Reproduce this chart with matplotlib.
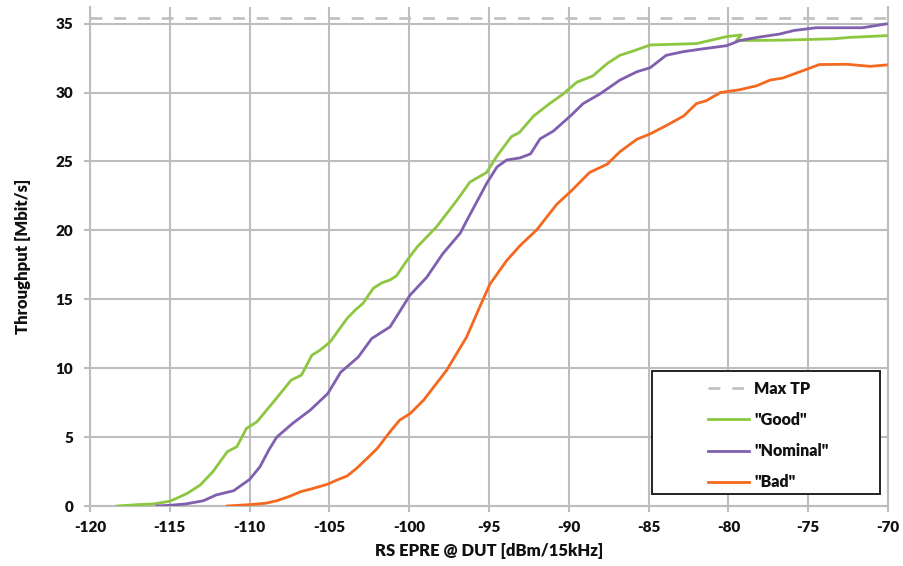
import matplotlib.pyplot as plt
from matplotlib.patches import Rectangle

# RS EPRE [dBm/15kHz] vs. throughput [Mbit/s] for three channel conditions
max_tp = 35.4
x_range = [-120, -70]

good_x = [-118.3, -117, -116, -115, -114.5, -113.9, -113.1, -112.3, -111.4, -110.8,
          -110.2, -109.55, -108.5, -107.4, -106.75, -106.1, -105.6, -104.96, -103.9,
          -103.4, -102.9, -102.25, -101.7, -101.2, -100.8, -100.15, -99.5, -98.3,
          -97.0, -96.2, -95.15, -94.5, -93.6, -93.1, -92.2, -91.2, -90.35, -89.5,
          -88.5, -87.6, -86.8, -86.0, -84.9, -82.0, -80.1, -79.2, -79.5, -76.6,
          -73.4, -72.4, -70.0]
good_y = [0, 0.1, 0.15, 0.35, 0.6, 0.92, 1.52, 2.49, 3.94, 4.3,
          5.63, 6.1, 7.56, 9.13, 9.5, 10.94, 11.3, 11.9, 13.6,
          14.2, 14.7, 15.8, 16.2, 16.4, 16.7, 17.8, 18.8, 20.24,
          22.2, 23.5, 24.2, 25.4, 26.8, 27.1, 28.3, 29.2, 29.9, 30.75,
          31.2, 32.1, 32.7, 33.0, 33.45, 33.55, 34.06, 34.18, 33.77, 33.8,
          33.9, 34.0, 34.13]

nominal_x = [-115.8, -115, -114, -112.9, -112.1, -111.0, -110.0, -109.35, -108.8,
             -108.3, -107.3, -106.2, -105.1, -104.3, -103.2, -102.35, -101.2,
             -100.6, -99.95, -98.9, -97.9, -96.8, -96.4, -95.15, -94.5, -93.9,
             -93.05, -92.4, -91.8, -90.97, -89.9, -89.1, -88.05, -86.8, -85.75,
             -84.9, -83.9, -82.8, -81.6, -80.1, -79.3, -78.2, -76.8, -75.9, -74.5,
             -71.6, -70.1]
nominal_y = [0, 0.05, 0.15, 0.38, 0.8, 1.11, 1.93, 2.85, 4.06,
             5.0, 6.0, 6.96, 8.16, 9.7, 10.8, 12.15, 13.0,
             14.1, 15.3, 16.6, 18.3, 19.8, 20.7, 23.4, 24.6, 25.1,
             25.26, 25.55, 26.64, 27.2, 28.3, 29.2, 29.9, 30.9, 31.5,
             31.8, 32.7, 32.97, 33.17, 33.4, 33.77, 34.0, 34.24, 34.5, 34.7,
             34.7, 34.98]

bad_x = [-111.4, -110, -109, -108.3, -107.5, -106.8, -106.0, -105.1, -104.5,
         -103.9, -103.3, -102.6, -102.0, -101.2, -100.6, -99.95, -99.1, -97.65,
         -96.4, -95.6, -94.94, -93.9, -93.05, -92.0, -90.75, -89.9, -88.7, -87.6,
         -86.8, -85.75, -84.9, -83.9, -82.8, -82.0, -81.4, -80.5, -79.3, -78.2,
         -77.4, -76.6, -75.3, -74.3, -72.6, -71.1, -70.1]
bad_y = [0, 0.1, 0.2, 0.38, 0.7, 1.04, 1.28, 1.59, 1.9,
         2.17, 2.73, 3.5, 4.18, 5.39, 6.23, 6.7, 7.68, 9.86,
         12.27, 14.4, 16.1, 17.8, 18.9, 20.05, 21.9, 22.8, 24.2, 24.8,
         25.7, 26.6, 27.0, 27.6, 28.3, 29.2, 29.4, 30.0, 30.2, 30.5,
         30.9, 31.05, 31.6, 32.03, 32.05, 31.9, 32.0]

x_ticks = list(range(-120, -69, 5))
y_ticks = list(range(0, 36, 5))

plt.rcParams['font.family'] = ['Lato', 'DejaVu Sans']
plt.rcParams['font.weight'] = 'heavy'
plt.rcParams['axes.unicode_minus'] = False

grid_col = '#bdbdbd'
text_col = '#111111'

fig = plt.figure(figsize=(9.04, 5.66), dpi=100)
ax = fig.add_axes([0.0996, 0.106, 0.8827, 0.8815])

ax.plot(x_range, [max_tp, max_tp], color='#bfbfbf', lw=1.9,
        dashes=(4.5, 4.5), label='Max TP', zorder=3)
ax.plot(good_x, good_y, color='#8dc63f', lw=2.0, label='"Good"', zorder=4)
ax.plot(nominal_x, nominal_y, color='#7f5fae', lw=2.0, label='"Nominal"', zorder=4)
ax.plot(bad_x, bad_y, color='#f5681f', lw=2.0, label='"Bad"', zorder=4)

ax.set_xlim(-120, -70)
ax.set_ylim(0, 36.2)
ax.set_xticks(x_ticks)
ax.set_yticks(y_ticks)
ax.grid(True, color=grid_col, lw=1.5)
ax.set_axisbelow(True)

ax.spines['top'].set_visible(False)
for side in ['left', 'bottom', 'right']:
    ax.spines[side].set_color(grid_col)
    ax.spines[side].set_linewidth(1.5)

ax.tick_params(axis='both', colors=grid_col, length=4, width=1.5,
               labelsize=11, labelcolor=text_col)
ax.tick_params(axis='x', pad=7)
ax.tick_params(axis='y', pad=8)

ax.set_xlabel('RS EPRE @ DUT [dBm/15kHz]', fontsize=12, fontweight='heavy',
              color=text_col, labelpad=6)
ax.set_ylabel('Throughput [Mbit/s]', fontsize=12, fontweight='heavy',
              color=text_col, labelpad=18)

# legend box drawn separately so it can be wider than its entries
box = Rectangle((0.7044, 0.0237), 0.2862, 0.2465, transform=ax.transAxes,
                facecolor='white', edgecolor='#222222', lw=1.4, zorder=5)
ax.add_patch(box)
leg = ax.legend(loc='center', bbox_to_anchor=(0.8495, 0.141), frameon=False,
                fontsize=11.5, handlelength=2.6, handletextpad=0.3,
                labelspacing=0.95)
leg.set_zorder(6)
for t in leg.get_texts():
    t.set_color(text_col)
    t.set_fontweight('heavy')

fig.savefig('out.png', dpi=100)
